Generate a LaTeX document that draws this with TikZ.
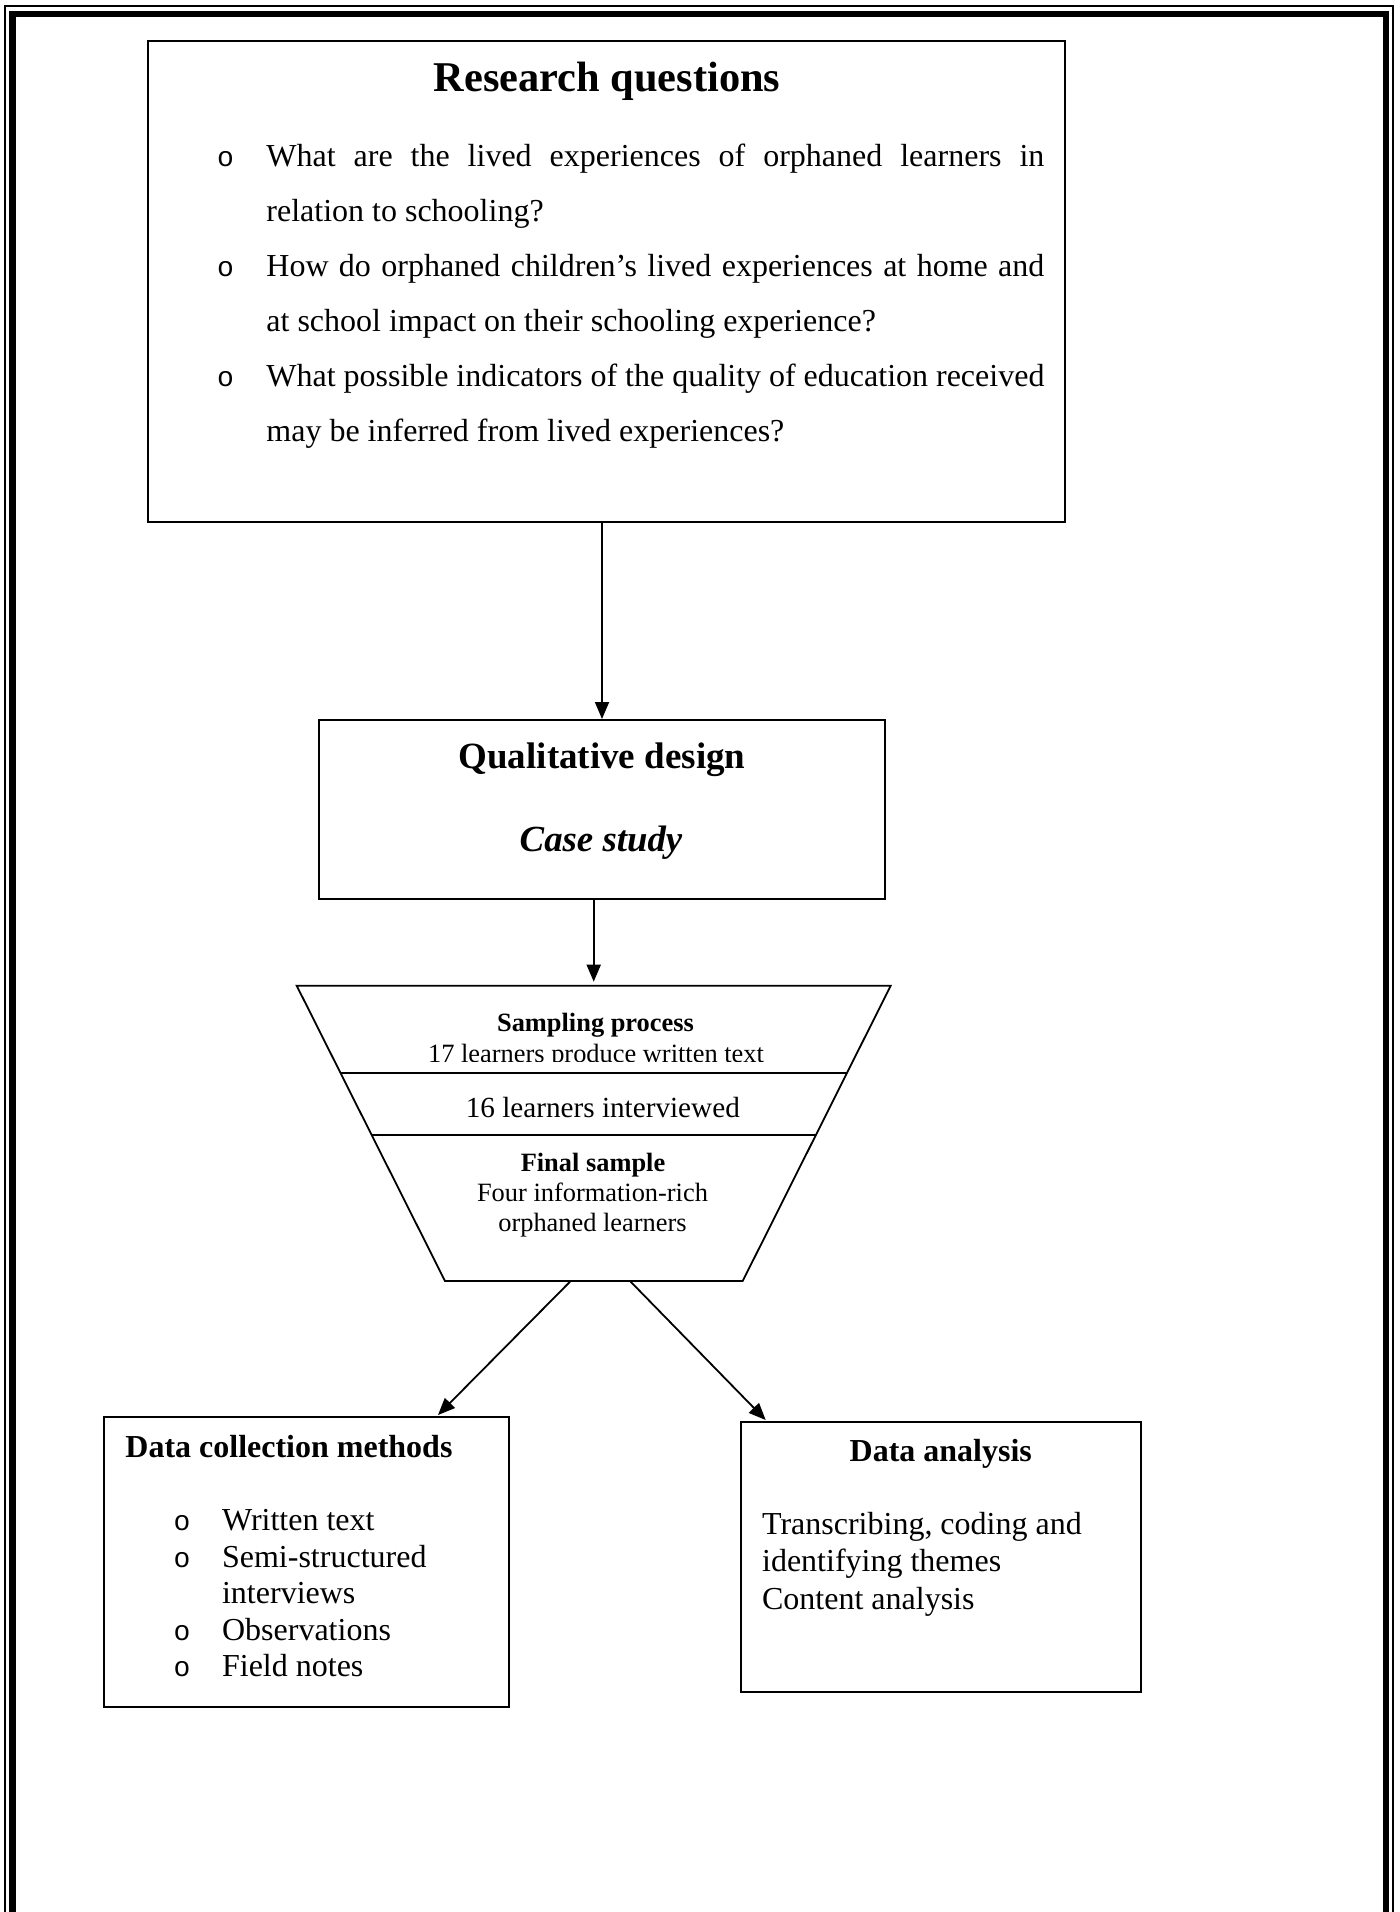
\documentclass[tikz,border=0pt]{standalone}
\usepackage{fontspec}
\setmainfont{Liberation Serif}
\newfontfamily\bulletfont{Liberation Mono}
\usetikzlibrary{arrows.meta,calc}
\newcommand\myfs[1]{\fontsize{#1}{#1}\selectfont}
\begin{document}
\begin{tikzpicture}[x=0.5pt,y=-0.5pt,
  box/.style={draw,line width=1pt,inner sep=0pt},
  txt/.style={inner sep=0pt,anchor=base},
  lt/.style={inner sep=0pt,anchor=base west},
  body/.style={font=\myfs{16}},
  bul/.style={txt,font={\bulletfont\myfs{14}}},
  conn/.style={line width=0.9pt,-{Triangle[length=8.5pt,width=7pt]}},
  funnelline/.style={line width=0.9pt,line join=miter}]
\useasboundingbox (0,0) rectangle (1399,1912);
% page frame (open at the bottom)
\begin{scope}
\clip (0,0) rectangle (1399,1912);
\draw[line width=0.6pt] (5,1960) -- (5,6) -- (1393,6) -- (1393,1960);
\draw[line width=3.4pt,line join=miter] (12.8,1960) -- (12.8,14) -- (1386,14) -- (1386,1960);
\end{scope}

% Research questions box
\node[box,minimum width=458.5pt,minimum height=240.5pt] (rq) at (606.5,281.5) {};
\node[txt,font={\bfseries\myfs{21.2}}] (rqt) at (607,91.7) {Research questions};
\node[bul] (rb1) at (225.6,166.7) {o};
\node[bul] (rb2) at (225.6,276.7) {o};
\node[bul] (rb3) at (225.6,386.7) {o};
\node[lt,body] (q1a) at (266,166.7) {\makebox[389pt][s]{What are the lived experiences of orphaned learners in}};
\node[lt,body] (q1b) at (266,221.7) {relation to schooling?};
\node[lt,body] (q2a) at (266,276.7) {\makebox[389pt][s]{How do orphaned children’s lived experiences at home and}};
\node[lt,body] (q2b) at (266,331.7) {at school impact on their schooling experience?};
\node[lt,body] (q3a) at (266,386.7) {\makebox[389pt][s]{What possible indicators of the quality of education received}};
\node[lt,body] (q3b) at (266,441.7) {may be inferred from lived experiences?};

% Qualitative design box
\node[box,minimum width=283pt,minimum height=89.65pt] (qd) at (602,809.65) {};
\node[txt,font={\bfseries\myfs{18.5}}] (qdt) at (602,768) {Qualitative design};
\node[txt,font={\bfseries\itshape\myfs{18.4}}] (cs) at (601,851.7) {Case study};

% Funnel
\coordinate (TL) at (296.7,985.7);
\coordinate (TR) at (890.7,985.7);
\coordinate (BR) at (742.7,1281);
\coordinate (BL) at (445,1281);
\coordinate (ftop) at (593.7,985.7);
\coordinate (d1l) at ($(TL)!0.2966!(BL)$);
\coordinate (d1r) at ($(TR)!0.2966!(BR)$);
\coordinate (d2l) at ($(TL)!0.5056!(BL)$);
\coordinate (d2r) at ($(TR)!0.5056!(BR)$);
\coordinate (fbl) at ($(BL)!0.4222!(BR)$);
\coordinate (fbr) at ($(BL)!0.6214!(BR)$);
\draw[funnelline] (TL) -- (TR) -- (BR) -- (BL) -- cycle;
\draw[funnelline] (d1l) -- (d1r);
\draw[funnelline] (d2l) -- (d2r);
\node[txt,font={\bfseries\myfs{13.2}}] (sp) at (595.5,1031.7) {Sampling process};
\begin{scope}
\clip (300,1000) rectangle (890,1061.7);
\node[txt,font=\myfs{13.2}] (s17) at (596,1062.5) {17 learners produce written text};
\end{scope}
\node[txt,font=\myfs{14.6}] (s16) at (602.8,1117.3) {16 learners interviewed};
\node[txt,font={\bfseries\myfs{13.2}}] (fs) at (593,1171.7) {Final sample};
\node[txt,font=\myfs{13.2}] (fs1) at (592.5,1201.7) {Four information-rich};
\node[txt,font=\myfs{13.2}] (fs2) at (592.5,1231.7) {orphaned learners};

% Data collection methods box
\node[box,minimum width=202.5pt,minimum height=145pt] (dc) at (306.5,1562) {};
\node[lt,font={\bfseries\myfs{16}}] (dct) at (125,1457.3) {Data collection methods};
\node[bul] (db1) at (182,1530.5) {o};
\node[bul] (db2) at (182,1567) {o};
\node[bul] (db3) at (182,1640) {o};
\node[bul] (db4) at (182,1676.5) {o};
\node[lt,body] (dc1) at (221.7,1530.5) {Written text};
\node[lt,body] (dc2) at (221.7,1567) {Semi-structured};
\node[lt,body] (dc2b) at (221.7,1603.5) {interviews};
\node[lt,body] (dc3) at (221.7,1640) {Observations};
\node[lt,body] (dc4) at (221.7,1676.5) {Field notes};

% Data analysis box
\node[box,minimum width=200.15pt,minimum height=135pt] (da) at (940.85,1557) {};
\node[txt,font={\bfseries\myfs{16}}] (dat) at (940.8,1461.7) {Data analysis};
\node[lt,body] (da1) at (761.7,1534.3) {Transcribing, coding and};
\node[lt,body] (da2) at (761.7,1571.7) {identifying themes};
\node[lt,body] (da3) at (761.7,1609.3) {Content analysis};

% Connectors
\draw[conn] (qd.north |- rq.south) -- (qd.north);
\draw[conn,shorten >=2pt] (ftop |- qd.south) -- (ftop);
\draw[conn] (fbl) -- ($(dc.north west)+(335,-1)$);
\draw[conn] (fbr) -- ($(da.north west)+(26,-1)$);
\end{tikzpicture}
\end{document}
